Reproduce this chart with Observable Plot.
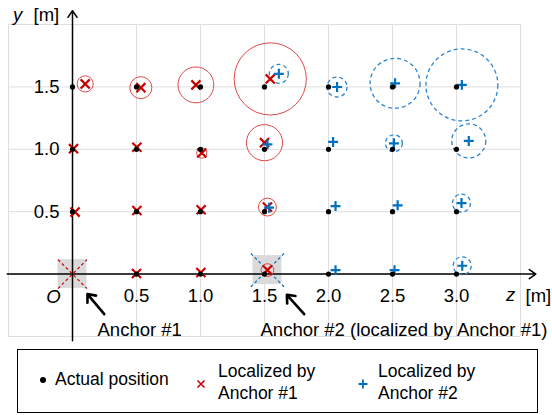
<!DOCTYPE html>
<html><head><meta charset="utf-8">
<script src="https://cdn.jsdelivr.net/npm/d3@7"></script>
<script src="https://cdn.jsdelivr.net/npm/@observablehq/plot@0.6"></script>
<style>
body{margin:0;background:#fff;}
#wrap{position:relative;width:552px;height:415px;font-family:"Liberation Sans",Arial,sans-serif;}
#chart{position:absolute;left:0;top:0;}
#legend{position:absolute;left:17px;top:349px;width:521px;height:64px;border:1.3px solid #000;box-sizing:border-box;font-size:17.5px;color:#000;}
#legend .it{position:absolute;line-height:21.5px;}
#legend svg{position:absolute;overflow:visible;}
</style></head><body>
<div id="wrap"><div id="chart"></div>
<div id="legend">
  <svg style="left:25px;top:30px" width="1" height="1"><circle cx="0" cy="0" r="3" fill="#000"/></svg>
  <div class="it" style="left:37px;top:19px">Actual position</div>
  <svg style="left:183px;top:34px" width="1" height="1"><path d="M-3.5,-3.5L3.5,3.5M-3.5,3.5L3.5,-3.5" stroke="#cc0000" stroke-width="1.6"/></svg>
  <div class="it" style="left:200px;top:11px">Localized by<br>Anchor #1</div>
  <svg style="left:345px;top:34px" width="1" height="1"><path d="M-4.5,0L4.5,0M0,-4.5L0,4.5" stroke="#0070c0" stroke-width="1.8"/></svg>
  <div class="it" style="left:360px;top:11px">Localized by<br>Anchor #2</div>
</div></div>
<script>
// grid and ticks
const gridZ = [-0.5, 0, 0.5, 1.0, 1.5, 2.0, 2.5, 3.0, 3.5];
const gridY = [-0.5, 0, 0.5, 1.0, 1.5, 2.0];
const tickZ = [0.5, 1.0, 1.5, 2.0, 2.5, 3.0];
const tickZLabels = ["0.5", "1.0", "1.5", "2.0", "2.5", "3.0"];
const tickY = [0.5, 1.0, 1.5];
const tickYLabels = ["0.5", "1.0", "1.5"];

// actual positions
const actualZ = [0,0.5,1,1.5,2,2.5,3, 0,0.5,1,1.5,2,2.5,3, 0,0.5,1,1.5,2,2.5,3, 0.5,1,1.5,2,2.5,3];
const actualY = [1.5,1.5,1.5,1.5,1.5,1.5,1.5, 1,1,1,1,1,1,1, 0.5,0.5,0.5,0.5,0.5,0.5,0.5, 0,0,0,0,0,0];

// localized by Anchor #1 (z, y, error radius in m)
const a1Z = [0.099, 0.534, 0.964, 1.545, 0.008, 0.503, 1.010, 1.500, 0.020, 0.503, 1.005, 1.523, 0.500, 1.003, 1.523];
const a1Y = [1.524, 1.494, 1.516, 1.564, 1.005, 1.016, 0.970, 1.053, 0.497, 0.510, 0.516, 0.537, 0.005, 0.013, 0.032];
const a1R = [0.063, 0.086, 0.140, 0.282, 0, 0, 0.040, 0.141, 0, 0, 0, 0.070, 0, 0, 0.050];

// localized by Anchor #2
const a2Z = [1.612, 2.067, 2.520, 3.042, 1.523, 2.036, 2.511, 3.096, 1.536, 2.055, 2.540, 3.039, 2.055, 2.516, 3.045];
const a2Y = [1.605, 1.499, 1.529, 1.516, 1.040, 1.059, 1.048, 1.067, 0.532, 0.545, 0.551, 0.569, 0.032, 0.032, 0.067];
const a2R = [0.074, 0.078, 0.195, 0.281, 0, 0, 0.066, 0.133, 0, 0, 0, 0.070, 0, 0, 0.070];

// anchors
const anchorZ = [0, 1.523];
const anchorY = [0, 0.032];

const actual = actualZ.map((z, i) => ({z, y: actualY[i]}));
const a1 = a1Z.map((z, i) => ({z, y: a1Y[i], r: a1R[i]}));
const a2 = a2Z.map((z, i) => ({z, y: a2Y[i], r: a2R[i]}));
const xt = tickZ.map((v, i) => ({v, l: tickZLabels[i]}));
const yt = tickY.map((v, i) => ({v, l: tickYLabels[i]}));
const anc1 = [{z: anchorZ[0], y: anchorY[0]}];
const anc2 = [{z: anchorZ[1], y: anchorY[1]}];

const W = 552, H = 345, mL = 8, mR = 32, mT = 24, mB = 9;
const pxPerM = (W - mL - mR) / (3.5 - (-0.5));
const hz = 0.113, hy = 0.116, hz2 = 0.13, hy2 = 0.133;
const RED = "#cc0000", BLUE = "#0070c0";
const FS = 18.5;

const one = [0];
const chart = Plot.plot({
  width: W, height: H,
  marginLeft: mL, marginRight: mR, marginTop: mT, marginBottom: mB,
  x: {domain: [-0.5, 3.5], axis: null},
  y: {domain: [-0.5, 2.0], axis: null},
  r: {type: "linear", domain: [0, 1], range: [0, pxPerM]},
  style: {fontFamily: "'Liberation Sans', Arial, sans-serif", background: "transparent", overflow: "visible"},
  marks: [
    Plot.ruleX(gridZ, {stroke: "#dedede", strokeWidth: 1}),
    Plot.ruleY(gridY, {stroke: "#dedede", strokeWidth: 1}),
    // anchor squares
    Plot.rect(anc1, {x1: d => d.z - hz, x2: d => d.z + hz, y1: d => d.y - hy, y2: d => d.y + hy, fill: "#dadada"}),
    Plot.rect(anc2, {x1: d => d.z - hz, x2: d => d.z + hz, y1: d => d.y - hy, y2: d => d.y + hy, fill: "#dadada"}),
    // axes
    Plot.arrow(one, {x1: () => -0.51, y1: () => 0, x2: () => 3.62, y2: () => 0, stroke: "#000", strokeWidth: 1.5, headLength: 8, headAngle: 70}),
    Plot.arrow(one, {x1: () => 0, y1: () => -0.535, x2: () => 0, y2: () => 2.11, stroke: "#000", strokeWidth: 1.5, headLength: 8, headAngle: 70}),
    // anchor dashed crosses
    Plot.link(anc1, {x1: d => d.z - hz, y1: d => d.y - hy, x2: d => d.z + hz, y2: d => d.y + hy, stroke: RED, strokeWidth: 1.2, strokeDasharray: "3,2.5"}),
    Plot.link(anc1, {x1: d => d.z - hz, y1: d => d.y + hy, x2: d => d.z + hz, y2: d => d.y - hy, stroke: RED, strokeWidth: 1.2, strokeDasharray: "3,2.5"}),
    Plot.link(anc2, {x1: d => d.z - hz2, y1: d => d.y - hy2, x2: d => d.z + hz2, y2: d => d.y + hy2, stroke: BLUE, strokeWidth: 1.2, strokeDasharray: "3,2.5"}),
    Plot.link(anc2, {x1: d => d.z - hz2, y1: d => d.y + hy2, x2: d => d.z + hz2, y2: d => d.y - hy2, stroke: BLUE, strokeWidth: 1.2, strokeDasharray: "3,2.5"}),
    // error circles
    Plot.dot(a1.filter(d => d.r > 0), {x: "z", y: "y", r: "r", stroke: "#e04848", strokeWidth: 1, fill: "none"}),
    Plot.dot(a2.filter(d => d.r > 0), {x: "z", y: "y", r: "r", stroke: "#2a84d2", strokeWidth: 1.3, strokeDasharray: "4,3", fill: "none"}),
    // localized markers
    Plot.dot(a1, {x: "z", y: "y", symbol: "times", r: 4.2, stroke: RED, strokeWidth: 2.2}),
    Plot.dot(a2, {x: "z", y: "y", symbol: "plus", r: 3.3, stroke: BLUE, strokeWidth: 2.2}),
    // actual positions
    Plot.dot(actual, {x: "z", y: "y", r: 2.6, fill: "#000"}),
    // tick labels
    Plot.text(xt, {x: "v", y: () => 0, text: "l", dy: 22, fontSize: FS, fill: "#000"}),
    Plot.text(yt, {x: () => 0, y: "v", text: "l", dx: -13, textAnchor: "end", fontSize: FS, fill: "#000"}),
    Plot.text(one, {x: () => 0, y: () => 0, text: () => "O", dx: -19, dy: 23, fontSize: FS, fontStyle: "italic", fill: "#000"}),
    Plot.text(one, {x: () => 3.5, y: () => 0, text: () => "z", dx: -10, dy: 21, fontSize: FS, fontStyle: "italic", fill: "#000"}),
    Plot.text(one, {x: () => 3.5, y: () => 0, text: () => "[m]", dx: 5, dy: 22, textAnchor: "start", fontSize: FS, fill: "#000"}),
    Plot.text(one, {x: () => 0, y: () => 2.0, text: () => "y", dx: -55, dy: -9, fontSize: FS, fontStyle: "italic", fill: "#000"}),
    Plot.text(one, {x: () => 0, y: () => 2.0, text: () => "[m]", dx: -39, dy: -9, textAnchor: "start", fontSize: FS, fill: "#000"}),
    // anchor labels and arrows
    Plot.text(one, {x: () => 0, y: () => 0, text: () => "Anchor #1", dx: 25, dy: 56, textAnchor: "start", fontSize: FS, fill: "#000"}),
    Plot.text(one, {x: () => 1.5, y: () => 0, text: () => "Anchor #2 (localized by Anchor #1)", dx: -4, dy: 56, textAnchor: "start", fontSize: FS, fill: "#000"}),
    Plot.arrow(one, {x1: () => 0.248, y1: () => -0.321, x2: () => 0.117, y2: () => -0.16, stroke: "#000", strokeWidth: 2.6, headLength: 6, headAngle: 80}),
    Plot.arrow(one, {x1: () => 1.81, y1: () => -0.321, x2: () => 1.675, y2: () => -0.166, stroke: "#000", strokeWidth: 2.6, headLength: 6, headAngle: 80})
  ]
});
document.getElementById("chart").appendChild(chart);
</script>
</body></html>
